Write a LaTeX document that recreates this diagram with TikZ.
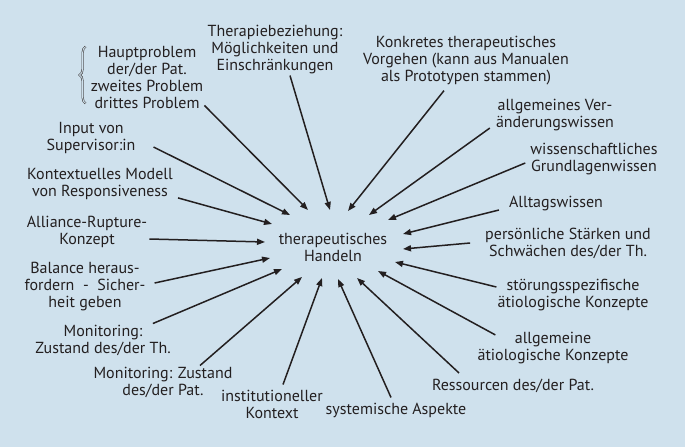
\documentclass[tikz,border=0pt]{standalone}
\usepackage{fontspec}
\setmainfont{PT Sans}
\usetikzlibrary{arrows.meta, decorations.pathreplacing}
\definecolor{bgcol}{RGB}{207,225,237}
\definecolor{inkcol}{RGB}{35,31,32}

\begin{document}
\begin{tikzpicture}[x=1pt, y=-1pt,
  font=\fontsize{16}{17}\selectfont, text=inkcol,
  lbl/.style={align=center, inner sep=1pt},
  arr/.style={-{Triangle[length=8pt, width=6pt]}, line width=1.5pt, draw=inkcol}
]
  \fill[bgcol] (0,0) rectangle (685,447);
  \useasboundingbox (0,0) rectangle (685,447);

  % centre
  \node[lbl] (hand) at (333,247) {therapeutisches\\Handeln};

  % labels, clockwise from the top
  \node[lbl] (thb) at (275,50) {Therapiebeziehung:\\Möglichkeiten und\\Einschränkungen};
  \node[lbl] (konk) at (466,61) {Konkretes therapeutisches\\Vorgehen (kann aus Manualen\\als Prototypen stammen)};
  \node[lbl] (ver) at (555,115) {allgemeines Ver-\\änderungswissen};
  \node[lbl] (wiss) at (594,159) {wissenschaftliches\\Grundlagenwissen};
  \node[lbl] (allt) at (556,204) {Alltagswissen};
  \node[lbl] (pers) at (568,243) {persönliche Stärken und\\Schwächen des/der Th.};
  \node[lbl] (stoer) at (573,295) {störungsspezifische\\ätiologische Konzepte};
  \node[lbl] (allg) at (553,348) {allgemeine\\ätiologische Konzepte};
  \node[lbl] (res) at (513,386) {Ressourcen des/der Pat.};
  \node[lbl] (sys) at (396,410) {systemische Aspekte};
  \node[lbl] (inst) at (272,404) {institutioneller\\Kontext};
  \node[lbl] (monpat) at (163,382) {Monitoring: Zustand\\des/der Pat.};
  \node[lbl] (month) at (103,340) {Monitoring:\\Zustand des/der Th.};
  \node[lbl] (bal) at (85,287) {Balance heraus-\\fordern \ - \ Sicher-\\heit geben};
  \node[lbl] (arc) at (87,232) {Alliance-Rupture-\\Konzept};
  \node[lbl] (kont) at (100,184) {Kontextuelles Modell\\von Responsiveness};
  \node[lbl] (sup) at (91,138) {Input von\\Supervisor:in};
  \node[lbl] (prob) at (147,77) {Hauptproblem\\der/der Pat.\\zweites Problem\\drittes Problem};

  % brace in front of the problem list
  \draw[decorate, decoration={brace, amplitude=6pt}, double=bgcol, draw=inkcol!85,
        line width=0.6pt, double distance=0.9pt]
    ([xshift=-4pt, yshift=6pt]prob.south west) -- ([xshift=-4pt, yshift=-2pt]prob.north west);

  % arrow heads around the centre
  \coordinate (thb-h) at (330,210);
  \coordinate (konk-h) at (348,211);
  \coordinate (ver-h) at (369,215);
  \coordinate (wiss-h) at (388,220);
  \coordinate (allt-h) at (403,234);
  \coordinate (pers-h) at (403,249);
  \coordinate (stoer-h) at (395,262);
  \coordinate (allg-h) at (378,271);
  \coordinate (res-h) at (357,278);
  \coordinate (sys-h) at (338,279);
  \coordinate (inst-h) at (322,278);
  \coordinate (monpat-h) at (302,277);
  \coordinate (month-h) at (282,269);
  \coordinate (bal-h) at (270,258);
  \coordinate (arc-h) at (265,242);
  \coordinate (kont-h) at (272,224);
  \coordinate (sup-h) at (290,215);
  \coordinate (prob-h) at (308,210);

  \draw[arr] ([xshift=15pt]thb.south) -- (thb-h);
  \draw[arr] ([shift={(-22pt,-4pt)}]konk.south) -- (konk-h);
  \draw[arr] ([shift={(-5pt,4pt)}]ver.south west) -- (ver-h);
  \draw[arr] ([shift={(-4pt,-4pt)}]wiss.west) -- (wiss-h);
  \draw[arr] ([shift={(-9pt,-6pt)}]allt.west) -- (allt-h);
  \draw[arr] ([xshift=-14pt]pers.west) -- (pers-h);
  \draw[arr] ([yshift=8pt]stoer.west) -- (stoer-h);
  \draw[arr] ([shift={(19pt,-4pt)}]allg.north west) -- (allg-h);
  \draw[arr] ([shift={(-54pt,5pt)}]res.north) -- (res-h);
  \draw[arr] ([shift={(-5pt,4pt)}]sys.north) -- (sys-h);
  \draw[arr] ([shift={(11pt,4pt)}]inst.north) -- (inst-h);
  \draw[arr] ([xshift=37pt]monpat.north) -- (monpat-h);
  \draw[arr] ([xshift=-19pt]month.north east) -- (month-h);
  \draw[arr] ([shift={(8pt,4pt)}]bal.east) -- (bal-h);
  \draw[arr] ([shift={(1pt,-7pt)}]arc.east) -- (arc-h);
  \draw[arr] ([shift={(4pt,3pt)}]kont.south east) -- (kont-h);
  \draw[arr] ([shift={(17pt,-9pt)}]sup.east) -- (sup-h);
  \draw[arr] ([yshift=4pt]prob.south east) -- (prob-h);
\end{tikzpicture}
\end{document}
